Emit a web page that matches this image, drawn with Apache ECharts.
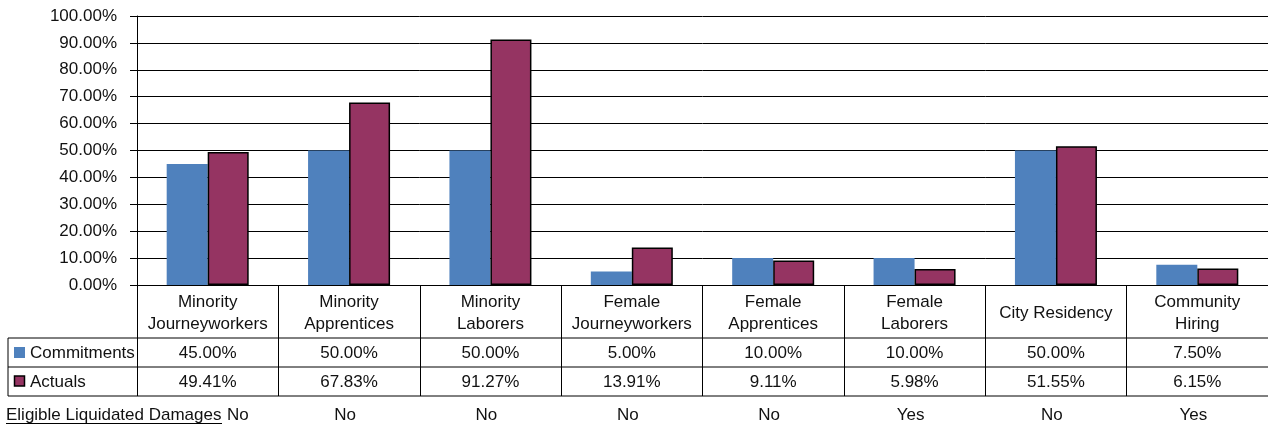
<!DOCTYPE html>
<html><head><meta charset="utf-8">
<script src="https://cdn.jsdelivr.net/npm/echarts@6/dist/echarts.min.js"></script>
<style>html,body{margin:0;padding:0;background:#fff}#c{width:1268px;height:427px}</style>
</head><body><div id="c"></div>
<script>
const categories = ['Minority\nJourneyworkers','Minority\nApprentices','Minority\nLaborers','Female\nJourneyworkers','Female\nApprentices','Female\nLaborers','City Residency','Community\nHiring'];
const commitments = [45.00, 50.00, 50.00, 5.00, 10.00, 10.00, 50.00, 7.50];
const actuals = [49.41, 67.83, 91.27, 13.91, 9.11, 5.98, 51.55, 6.15];
const eligible = ['No','No','No','No','No','Yes','No','Yes'];
const seriesNames = ['Commitments','Actuals'];
const yMin = 0, yMax = 100, yStep = 10;

const FONT = 'Liberation Sans, Arial, sans-serif';
const FS = 17;
const BLUE = '#4F81BD', RED = '#953462';
const chart = echarts.init(document.getElementById('c'), null, {renderer:'canvas'});
const option = {
  animation: false,
  backgroundColor: '#fff',
  grid: {left: 137, right: 0, top: 16, bottom: 142},
  xAxis: {
    type: 'category', data: categories,
    axisLine: {show: true, lineStyle: {color: '#000', width: 1}},
    axisTick: {show: true, length: 111, lineStyle: {color: '#000'}},
    axisLabel: {fontFamily: FONT, fontSize: FS, color: '#111', lineHeight: 22, verticalAlign: 'middle', margin: 28, interval: 0}
  },
  yAxis: {
    type: 'value', min: yMin, max: yMax, interval: yStep,
    axisLine: {show: true, lineStyle: {color: '#000'}},
    axisTick: {show: true, length: 7, lineStyle: {color: '#000'}},
    splitLine: {show: true, lineStyle: {color: '#000', width: 1}},
    axisLabel: {fontFamily: FONT, fontSize: FS, color: '#111', margin: 20, formatter: v => v.toFixed(2) + '%'}
  },
  series: [
    {name: seriesNames[0], type: 'bar', data: commitments, barWidth: 41, barGap: '0%', itemStyle: {color: BLUE}},
    {name: seriesNames[1], type: 'bar', data: actuals, barWidth: 41, barGap: '0%', itemStyle: {color: RED, borderColor: '#000', borderWidth: 1.5}}
  ]
};
chart.setOption(option);

// Data table beneath the axis
const y0 = chart.convertToPixel({yAxisIndex: 0}, 0);
const row1 = y0 + 53, row2 = row1 + 29, row3 = row2 + 29;
const W = 1268, L = 8;
const els = [];
const line = (x1, y1, x2, y2) => els.push({type: 'line', shape: {x1, y1, x2, y2}, style: {stroke: '#000', lineWidth: 1}, silent: true});
line(L, row1, W, row1); line(L, row2, W, row2); line(L, row3, W, row3);
line(L, row1, L, row3);
const txt = (x, y, s, align) => els.push({type: 'text', x, y, style: {text: s, fill: '#111', font: FS + 'px ' + FONT, align: align || 'center', verticalAlign: 'middle'}, silent: true});
// legend keys
els.push({type: 'rect', shape: {x: 14, y: (row1 + row2) / 2 - 5.5, width: 11, height: 11}, style: {fill: BLUE}, silent: true});
els.push({type: 'rect', shape: {x: 14.5, y: (row2 + row3) / 2 - 5.5, width: 10, height: 10}, style: {fill: RED, stroke: '#000', lineWidth: 1.5}, silent: true});
txt(30, (row1 + row2) / 2 + 1, seriesNames[0], 'left');
txt(30, (row2 + row3) / 2 + 1, seriesNames[1], 'left');
categories.forEach((c, i) => {
  const cx = chart.convertToPixel({xAxisIndex: 0}, i);
  txt(cx, (row1 + row2) / 2 + 1, commitments[i].toFixed(2) + '%');
  txt(cx, (row2 + row3) / 2 + 1, actuals[i].toFixed(2) + '%');
  if (i === 0) txt(227, 415, eligible[i], 'left');
  else txt(cx - 4, 415, eligible[i]);
});
txt(6, 415, 'Eligible Liquidated Damages', 'left');
line(6, 423.5, 222, 423.5);
chart.setOption({graphic: {elements: els}});
</script></body></html>
